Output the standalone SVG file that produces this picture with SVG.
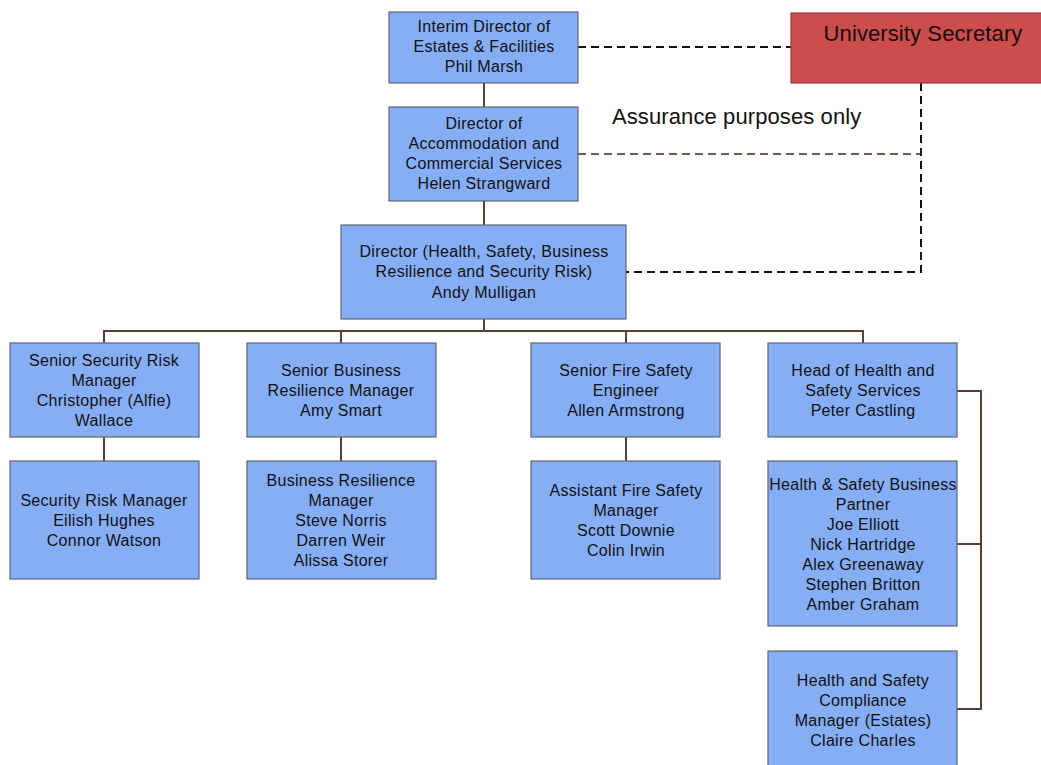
<svg xmlns="http://www.w3.org/2000/svg" width="1041" height="765" viewBox="0 0 1041 765">
  <style>
    .box { fill: #86aef7; stroke: #5f6473; stroke-width: 1.2; }
    .sec { fill: #cd4c4c; stroke: #9a3838; stroke-width: 1.2; }
    .t { font-family: "Liberation Sans", Arial, sans-serif; font-size: 16px; letter-spacing: 0.3px; fill: #111; text-anchor: middle; }
    .big { font-family: "Liberation Sans", Arial, sans-serif; font-size: 22px; letter-spacing: 0.1px; fill: #111; }
    .solid { fill: none; stroke: #5a3d33; stroke-width: 2; }
    .dash { fill: none; stroke: #111; stroke-width: 2; stroke-dasharray: 8 5; }
    .dashb { fill: none; stroke: #7a5a52; stroke-width: 2; stroke-dasharray: 8 5; }
  </style>

  <g id="connectors">
    <line class="solid" x1="484" y1="83" x2="484" y2="107"/>
    <line class="solid" x1="484" y1="201" x2="484" y2="225"/>
    <line class="solid" x1="484" y1="319" x2="484" y2="331"/>
    <polyline class="solid" points="104,343 104,331 863,331 863,343"/>
    <line class="solid" x1="341" y1="331" x2="341" y2="343"/>
    <line class="solid" x1="626" y1="331" x2="626" y2="343"/>
    <line class="solid" x1="104" y1="437" x2="104" y2="461"/>
    <line class="solid" x1="341" y1="437" x2="341" y2="461"/>
    <line class="solid" x1="626" y1="437" x2="626" y2="461"/>
    <polyline class="solid" points="957,391 981,391 981,709 957,709"/>
    <line class="solid" x1="957" y1="544" x2="981" y2="544"/>
    <line class="dash" x1="578" y1="47" x2="791" y2="47"/>
    <line class="dashb" x1="578" y1="154" x2="921" y2="154"/>
    <polyline class="dash" points="921,83 921,272 626,272"/>
  </g>

  <g id="university-secretary">
    <rect class="sec" x="791" y="13" width="260" height="70"/>
    <text class="big" x="923" y="41" text-anchor="middle">University Secretary</text>
  </g>

  <text class="big" x="612" y="124">Assurance purposes only</text>

  <g id="interim-director">
    <rect class="box" x="389" y="12" width="189" height="71"/>
    <text class="t" x="484" y="32">Interim Director of</text>
    <text class="t" x="484" y="52">Estates &amp; Facilities</text>
    <text class="t" x="484" y="72">Phil Marsh</text>
  </g>

  <g id="director-accommodation">
    <rect class="box" x="389" y="107" width="189" height="94"/>
    <text class="t" x="484" y="129">Director of</text>
    <text class="t" x="484" y="149">Accommodation and</text>
    <text class="t" x="484" y="169">Commercial Services</text>
    <text class="t" x="484" y="189">Helen Strangward</text>
  </g>

  <g id="director-hsbr">
    <rect class="box" x="341" y="225" width="285" height="94"/>
    <text class="t" x="484" y="257">Director (Health, Safety, Business</text>
    <text class="t" x="484" y="277">Resilience and Security Risk)</text>
    <text class="t" x="484" y="298">Andy Mulligan</text>
  </g>

  <g id="senior-security">
    <rect class="box" x="10" y="343" width="189" height="94"/>
    <text class="t" x="104" y="366">Senior Security Risk</text>
    <text class="t" x="104" y="386">Manager</text>
    <text class="t" x="104" y="406">Christopher (Alfie)</text>
    <text class="t" x="104" y="426">Wallace</text>
  </g>

  <g id="senior-resilience">
    <rect class="box" x="247" y="343" width="189" height="94"/>
    <text class="t" x="341" y="376">Senior Business</text>
    <text class="t" x="341" y="396">Resilience Manager</text>
    <text class="t" x="341" y="416">Amy Smart</text>
  </g>

  <g id="senior-fire">
    <rect class="box" x="531" y="343" width="189" height="94"/>
    <text class="t" x="626" y="376">Senior Fire Safety</text>
    <text class="t" x="626" y="396">Engineer</text>
    <text class="t" x="626" y="416">Allen Armstrong</text>
  </g>

  <g id="head-hs">
    <rect class="box" x="768" y="343" width="189" height="94"/>
    <text class="t" x="863" y="376">Head of Health and</text>
    <text class="t" x="863" y="396">Safety Services</text>
    <text class="t" x="863" y="416">Peter Castling</text>
  </g>

  <g id="security-risk">
    <rect class="box" x="10" y="461" width="189" height="118"/>
    <text class="t" x="104" y="506">Security Risk Manager</text>
    <text class="t" x="104" y="526">Eilish Hughes</text>
    <text class="t" x="104" y="546">Connor Watson</text>
  </g>

  <g id="business-resilience">
    <rect class="box" x="247" y="461" width="189" height="118"/>
    <text class="t" x="341" y="486">Business Resilience</text>
    <text class="t" x="341" y="506">Manager</text>
    <text class="t" x="341" y="526">Steve Norris</text>
    <text class="t" x="341" y="546">Darren Weir</text>
    <text class="t" x="341" y="566">Alissa Storer</text>
  </g>

  <g id="assistant-fire">
    <rect class="box" x="531" y="461" width="189" height="118"/>
    <text class="t" x="626" y="496">Assistant Fire Safety</text>
    <text class="t" x="626" y="516">Manager</text>
    <text class="t" x="626" y="536">Scott Downie</text>
    <text class="t" x="626" y="556">Colin Irwin</text>
  </g>

  <g id="hs-business-partner">
    <rect class="box" x="768" y="461" width="189" height="165"/>
    <text class="t" x="863" y="490">Health &amp; Safety Business</text>
    <text class="t" x="863" y="510">Partner</text>
    <text class="t" x="863" y="530">Joe Elliott</text>
    <text class="t" x="863" y="550">Nick Hartridge</text>
    <text class="t" x="863" y="570">Alex Greenaway</text>
    <text class="t" x="863" y="590">Stephen Britton</text>
    <text class="t" x="863" y="610">Amber Graham</text>
  </g>

  <g id="hs-compliance">
    <rect class="box" x="768" y="651" width="189" height="124"/>
    <text class="t" x="863" y="686">Health and Safety</text>
    <text class="t" x="863" y="706">Compliance</text>
    <text class="t" x="863" y="726">Manager (Estates)</text>
    <text class="t" x="863" y="746">Claire Charles</text>
  </g>
</svg>
